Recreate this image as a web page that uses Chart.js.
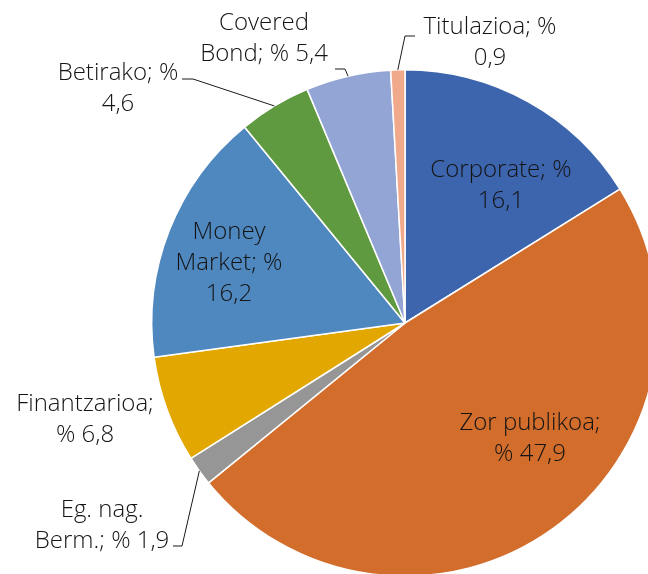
<!DOCTYPE html>
<html>
<head>
<meta charset="utf-8">
<script src="https://cdn.jsdelivr.net/npm/chart.js@4/dist/chart.umd.min.js"></script>
<style>
  html, body { margin: 0; padding: 0; background: #fff; overflow: hidden; width: 648px; height: 574px; }
  #wrap { position: absolute; left: 0; top: 0; width: 810px; height: 646px; }
</style>
</head>
<body>
<div id="wrap"><canvas id="tarta" width="810" height="646"></canvas></div>
<script>
// Datuak
var kategoriak = ['Corporate', 'Zor publikoa', 'Eg. nag. Berm.', 'Finantzarioa', 'Money Market', 'Betirako', 'Covered Bond', 'Titulazioa'];
var balioak = [16.1, 47.9, 1.9, 6.8, 16.2, 4.6, 5.4, 0.9];
// zenbat hitz lerro bakoitzean
var lerroHausteak = [[2, 1], [2, 2], [2, 4], [1, 2], [1, 2, 1], [2, 1], [1, 3], [2, 1]];

var koloreak = ['#3D65AE', '#D26D2C', '#969696', '#E2A700', '#4F87BF', '#5F9A40', '#93A5D5', '#F1A98B'];

// etiketen kokapena (erdigunearekiko px), kanpokoek gida-lerroa
var etiketak = [
    { dx: 96, dy: -137 },
    { dx: 125, dy: 116 },
    { dx: -303, dy: 203, ukondoa: [-223, 223], buztana: [-232, 223] },
    { dx: -320, dy: 97 },
    { dx: -176, dy: -60 },
    { dx: -287, dy: -234, ukondoa: [-212, -244], buztana: [-223, -244] },
    { dx: -141, dy: -284, ukondoa: [-60, -254], buztana: [-70, -254] },
    { dx: 85, dy: -280, ukondoa: [0, -287], buztana: [10, -287] }
];

function etiketaLerroak(i) {
    var testua = kategoriak[i] + '; % ' + balioak[i].toFixed(1).replace('.', ',');
    var hitzak = testua.split(' ');
    var lerroak = [], k = 0;
    lerroHausteak[i].forEach(function (n) {
        lerroak.push(hitzak.slice(k, k + n).join(' '));
        k += n;
    });
    return lerroak;
}

var etiketaPlugin = {
    id: 'etiketak',
    afterDatasetsDraw: function (chart) {
        var ctx = chart.ctx;
        var meta = chart.getDatasetMeta(0);
        ctx.save();
        ctx.font = '300 24px "Open Sans"';
        ctx.fillStyle = '#141414';
        ctx.textAlign = 'center';
        ctx.textBaseline = 'middle';
        meta.data.forEach(function (arc, i) {
            var p = arc.getProps(['x', 'y', 'startAngle', 'endAngle', 'outerRadius'], true);
            var e = etiketak[i];
            var lerroak = etiketaLerroak(i);
            var lh = 31;
            var y0 = p.y + e.dy - (lerroak.length - 1) * lh / 2;
            lerroak.forEach(function (l, j) {
                ctx.fillText(l, p.x + e.dx, y0 + j * lh);
            });
            if (e.ukondoa) {
                var erdia = (p.startAngle + p.endAngle) / 2;
                ctx.beginPath();
                ctx.strokeStyle = '#1a1a1a';
                ctx.lineWidth = 1;
                ctx.moveTo(p.x + Math.cos(erdia) * p.outerRadius, p.y + Math.sin(erdia) * p.outerRadius);
                ctx.lineTo(p.x + e.ukondoa[0], p.y + e.ukondoa[1]);
                ctx.lineTo(p.x + e.buztana[0], p.y + e.buztana[1]);
                ctx.stroke();
            }
        });
        ctx.restore();
    }
};

new Chart(document.getElementById('tarta'), {
    type: 'pie',
    data: {
        labels: kategoriak,
        datasets: [{
            data: balioak,
            backgroundColor: koloreak,
            borderColor: '#ffffff',
            borderWidth: 1.5
        }]
    },
    options: {
        responsive: false,
        animation: false,
        layout: { padding: { left: 151, right: 151, top: 69, bottom: 69 } },
        plugins: {
            legend: { display: false },
            tooltip: { enabled: false }
        }
    },
    plugins: [etiketaPlugin]
});
</script>
</body>
</html>
